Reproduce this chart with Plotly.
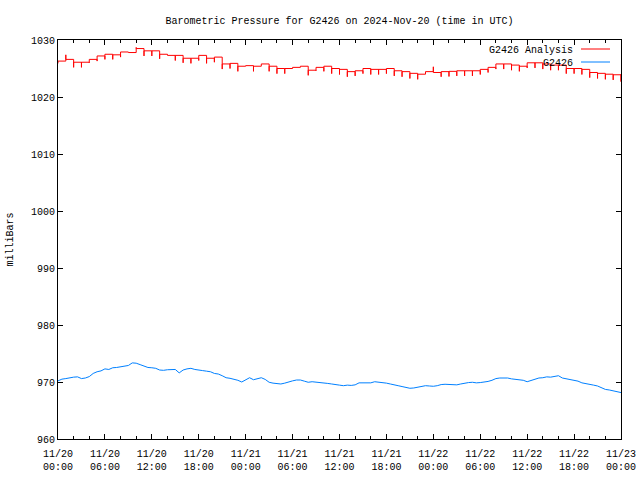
import pandas as pd
import plotly.graph_objects as go

TITLE = "Barometric Pressure for G2426 on 2024-Nov-20 (time in UTC)"
Y_LABEL = "milliBars"
START = "2024-11-20 00:00"

# G2426 Analysis: hourly level (h0..h72) and the short spike at each hour start (depth below level)
analysis_level = [
    1026.3, 1026.6, 1026.1, 1026.1, 1026.6, 1027.2, 1027.5, 1027.4, 1027.9, 1027.8,
    1028.5, 1028.1, 1028.1, 1027.5, 1027.3, 1027.3, 1026.8, 1026.8, 1027.3, 1026.8,
    1027.0, 1025.8, 1025.9, 1025.4, 1025.5, 1025.4, 1025.8, 1025.4, 1025.0, 1025.0,
    1025.2, 1025.4, 1024.7, 1025.2, 1025.4, 1025.0, 1024.85, 1024.45, 1024.6, 1025.0,
    1024.85, 1024.85, 1025.0, 1024.6, 1024.45, 1024.15, 1024.0, 1024.45, 1024.3, 1024.45,
    1024.5, 1024.6, 1024.6, 1024.6, 1024.85, 1025.2, 1025.8, 1025.8, 1025.6, 1025.4,
    1026.0, 1026.0, 1025.8, 1025.6, 1025.6, 1025.0, 1025.0, 1024.85, 1024.3, 1024.15,
    1024.0, 1023.9, 1024.0,
]
analysis_spike = [
    0.4, -0.8, 0.9, 0.9, 0.6, 0.9, 0.9, 0.8, 0.9, 0.0,
    -0.2, 0.9, 0.9, 0.8, 0.0, 0.9, 0.8, 0.9, 0.9, 0.9,
    0.9, 0.9, 0.9, 0.9, 0.0, 0.9, 0.0, 0.9, 0.9, 0.9,
    0.0, 0.0, 0.9, 0.6, 0.9, 0.9, 0.9, 0.9, 0.9, 0.9,
    0.9, 0.9, 0.9, 0.9, 0.9, 0.9, 0.9, 0.0, -1.0, 0.9,
    0.9, 0.9, 0.9, 0.9, 0.9, 0.9, 0.9, 0.9, 0.9, 0.9,
    0.9, 0.9, 0.9, 0.9, 0.9, 0.9, 0.9, 0.9, 0.9, 0.9,
    0.9, 0.9, 1.3,
]

# G2426 observed, every 30 minutes (h0..h72)
station_values = [
    970.2, 970.5, 970.6, 970.75, 970.85, 970.9, 970.6, 970.7, 970.95, 971.5,
    971.8, 971.95, 972.3, 972.2, 972.5, 972.55, 972.65, 972.7, 972.9, 973.35,
    973.3, 973.05, 972.75, 972.55, 972.5, 972.4, 972.1, 972.05, 972.15, 972.15,
    972.2, 971.6, 972.1, 972.3, 972.4, 972.2, 972.15, 972.0, 971.9, 971.8,
    971.5, 971.4, 971.1, 970.75, 970.65, 970.5, 970.3, 970.0, 970.45, 970.75,
    970.4, 970.6, 970.75, 970.45, 969.95, 969.8, 969.7, 969.65, 969.8, 970.05,
    970.2, 970.35, 970.35, 970.15, 969.95, 970.05, 970.0, 969.9, 969.85, 969.75,
    969.65, 969.5, 969.45, 969.35, 969.45, 969.4, 969.5, 969.85, 969.85, 969.9,
    969.85, 970.05, 970.0, 969.95, 969.8, 969.65, 969.55, 969.35, 969.2, 969.0,
    968.9, 968.95, 969.1, 969.25, 969.35, 969.3, 969.25, 969.35, 969.55, 969.6,
    969.6, 969.55, 969.5, 969.65, 969.8, 969.9, 969.95, 969.85, 969.9, 969.95,
    970.1, 970.3, 970.6, 970.7, 970.75, 970.7, 970.55, 970.45, 970.4, 970.3,
    970.05, 970.25, 970.5, 970.7, 970.75, 970.9, 970.85, 970.95, 971.1, 970.7,
    970.55, 970.5, 970.35, 970.15, 969.85, 969.75, 969.6, 969.45, 969.3, 968.95,
    968.7, 968.6, 968.45, 968.3, 968.15,
]

y_ticks = [960, 970, 980, 990, 1000, 1010, 1020, 1030]
x_tick_hours = [0, 6, 12, 18, 24, 30, 36, 42, 48, 54, 60, 66, 72]

start = pd.Timestamp(START)

# build the analysis step line
ax_t, ax_v = [], []
n = len(analysis_level)
for h in range(n):
    t0 = start + pd.Timedelta(hours=h)
    ax_t += [t0, t0]
    ax_v += [analysis_level[h] - analysis_spike[h], analysis_level[h]]
    if h < n - 1:
        ax_t.append(start + pd.Timedelta(hours=h + 1))
        ax_v.append(analysis_level[h])

st_t = [start + pd.Timedelta(minutes=30 * i) for i in range(len(station_values))]

FONT = "Liberation Mono, DejaVu Sans Mono, monospace"
RED = "#ff0000"
BLUE = "#0080ff"

fig = go.Figure()
fig.add_trace(go.Scatter(x=ax_t, y=ax_v, mode="lines", line=dict(color=RED, width=1),
                         name="G2426 Analysis", showlegend=False))
fig.add_trace(go.Scatter(x=st_t, y=station_values, mode="lines", line=dict(color=BLUE, width=1),
                         name="G2426", showlegend=False))

tickvals = [start + pd.Timedelta(hours=h) for h in x_tick_hours]
ticktext = [t.strftime("%m/%d") + "<br>" + t.strftime("%H:%M") for t in tickvals]

fig.update_layout(
    width=640, height=480,
    margin=dict(l=58, r=19, t=40, b=41, autoexpand=False),
    paper_bgcolor="white", plot_bgcolor="white",
    font=dict(family=FONT, size=10, color="black"),
    title=dict(text=TITLE, x=0.5, xref="paper", y=0.958, yref="container",
               xanchor="center", yanchor="middle", font=dict(family=FONT, size=10, color="black")),
    xaxis=dict(
        range=[start, start + pd.Timedelta(hours=72)],
        tickvals=tickvals, ticktext=ticktext, automargin=False,
        ticks="inside", ticklen=5, tickcolor="black", ticklabelstandoff=5,
        showline=True, linecolor="black", linewidth=1, mirror="allticks",
        showgrid=False, zeroline=False,
        minor=dict(dtick=2 * 3600 * 1000, tick0=start, ticks="inside", ticklen=3,
                   tickcolor="black", showgrid=False),
        tickfont=dict(family=FONT, size=10, color="black"),
    ),
    yaxis=dict(
        range=[960, 1030], tickvals=y_ticks, automargin=False,
        ticks="inside", ticklen=5, tickcolor="black",
        showline=True, linecolor="black", linewidth=1, mirror="allticks",
        showgrid=False, zeroline=False,
        tickfont=dict(family=FONT, size=10, color="black"),
    ),
)

fig.add_annotation(text=Y_LABEL, xref="paper", yref="paper", x=0, y=0.5, xshift=-48,
                   textangle=-90, showarrow=False, xanchor="center", yanchor="middle",
                   font=dict(family=FONT, size=10, color="black"))

# gnuplot-style key (text then sample line), top right
legend_items = [("G2426 Analysis", RED), ("G2426", BLUE)]
for i, (label, color) in enumerate(legend_items):
    fig.add_annotation(text=label, xref="paper", yref="paper", x=1, y=1, xshift=-46, yshift=-10 - 13 * i,
                       showarrow=False, xanchor="right", yanchor="middle",
                       font=dict(family=FONT, size=10, color="black"))
    fig.add_shape(type="line", xref="paper", yref="paper",
                  xsizemode="pixel", ysizemode="pixel", xanchor=1, yanchor=1,
                  x0=-40, x1=-11, y0=-9 - 13 * i, y1=-9 - 13 * i,
                  line=dict(color=color, width=1))

fig.write_html("out.html", config={"displayModeBar": False},
               post_script="document.body.style.margin='0';")
